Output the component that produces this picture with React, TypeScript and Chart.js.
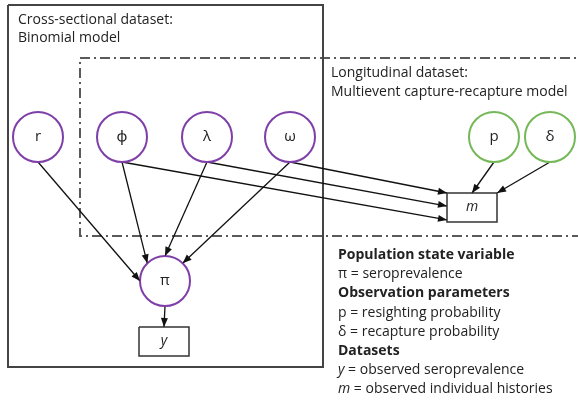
import React, { useEffect, useRef } from "react";
import { Chart, registerables } from "chart.js";
Chart.register(...registerables);

const W = 578;
const H = 402;

// Latent parameter nodes (circles)
const circleNames = ["r", "ϕ", "λ", "ω", "p", "δ", "π"];
const circleX = [38, 122, 207, 290, 494, 550, 165];
const circleY = [137, 137, 137, 137, 137, 137, 281];
const circleKind = ["demo", "demo", "demo", "demo", "obs", "obs", "demo"];

// Observed data nodes (boxes)
const boxNames = ["m", "y"];
const boxX = [472, 164];
const boxY = [207.5, 341.5];

// Edges: source node (leaves from bottom), target node, target anchor
const edgeFrom = ["r", "ϕ", "λ", "ω", "ϕ", "λ", "ω", "p", "δ", "π"];
const edgeTo = ["π", "π", "π", "π", "m", "m", "m", "m", "m", "y"];
// for circle targets: angle (deg); for box targets: [fx, fy]
const edgeAnchor: any[] = [180, 225, 270, 315, [0, 0.93], [0, 0.45], [0, 0], [0.5, 0], [1, 0], [0.5, 0]];

// Frames
const crossFrame = { x1: 8, y1: 5, x2: 323, y2: 367 };
const longFrame = { x1: 80, y1: 58, x2: 590, y2: 236 };

const crossTitle = ["Cross-sectional dataset:", "Binomial model"];
const longTitle = ["Longitudinal dataset:", "Multievent capture-recapture model"];

const legendText = [
  "Population state variable",
  "π = seroprevalence",
  "Observation parameters",
  "p = resighting probability",
  "δ = recapture probability",
  "Datasets",
  " = observed seroprevalence",
  " = observed individual histories",
];
const legendBold = [true, false, true, false, false, true, false, false];
const legendItalic = ["", "", "", "", "", "", "y", "m"];

const R = 25;
const BW = 25;
const BH = 14.5;
const FONT = "'Open Sans', 'Noto Sans', sans-serif";
const PURPLE = "#7F3FA8";
const GREEN = "#74B857";

function nodePos(name: string) {
  const ci = circleNames.indexOf(name);
  if (ci >= 0) return { kind: "c", x: circleX[ci], y: circleY[ci] };
  const bi = boxNames.indexOf(name);
  return { kind: "b", x: boxX[bi], y: boxY[bi] };
}

function edgeEnds(i: number) {
  const s = nodePos(edgeFrom[i]);
  const t = nodePos(edgeTo[i]);
  const sx = s.x;
  const sy = s.kind === "c" ? s.y + R : s.y + BH;
  const a = edgeAnchor[i];
  let tx: number, ty: number;
  if (t.kind === "c") {
    const th = (a * Math.PI) / 180;
    tx = t.x + R * Math.cos(th);
    ty = t.y + R * Math.sin(th);
  } else {
    tx = t.x - BW + 2 * BW * a[0];
    ty = t.y - BH + 2 * BH * a[1];
  }
  return { sx, sy, tx, ty };
}

function rectPts(f: { x1: number; y1: number; x2: number; y2: number }) {
  return [
    { x: f.x1, y: f.y1 },
    { x: f.x2, y: f.y1 },
    { x: f.x2, y: f.y2 },
    { x: f.x1, y: f.y2 },
    { x: f.x1, y: f.y1 },
  ];
}

const overlay = {
  id: "overlay",
  afterDatasetsDraw(chart: any) {
    const ctx = chart.ctx as CanvasRenderingContext2D;
    const xs = chart.scales.x;
    const ys = chart.scales.y;
    const px = (v: number) => xs.getPixelForValue(v);
    const py = (v: number) => ys.getPixelForValue(v);
    ctx.save();
    // arrowheads
    ctx.fillStyle = "#111";
    for (let i = 0; i < edgeFrom.length; i++) {
      const e = edgeEnds(i);
      const x1 = px(e.sx), y1 = py(e.sy), x2 = px(e.tx), y2 = py(e.ty);
      const ang = Math.atan2(y2 - y1, x2 - x1);
      const L = 9, Wd = 3.5;
      ctx.beginPath();
      ctx.moveTo(x2, y2);
      ctx.lineTo(x2 - L * Math.cos(ang) + Wd * Math.sin(ang), y2 - L * Math.sin(ang) - Wd * Math.cos(ang));
      ctx.lineTo(x2 - L * Math.cos(ang) - Wd * Math.sin(ang), y2 - L * Math.sin(ang) + Wd * Math.cos(ang));
      ctx.closePath();
      ctx.fill();
    }
    // node labels
    ctx.fillStyle = "#222";
    ctx.textAlign = "center";
    ctx.textBaseline = "middle";
    ctx.font = `15px ${FONT}`;
    for (let i = 0; i < circleNames.length; i++) {
      ctx.fillText(circleNames[i], px(circleX[i]), py(circleY[i]));
    }
    ctx.font = `italic 14px ${FONT}`;
    for (let i = 0; i < boxNames.length; i++) {
      ctx.fillText(boxNames[i], px(boxX[i]), py(boxY[i]));
    }
    // titles
    ctx.textAlign = "left";
    ctx.font = `14px ${FONT}`;
    crossTitle.forEach((t, k) => ctx.fillText(t, px(18), py(20 + k * 18.5)));
    longTitle.forEach((t, k) => ctx.fillText(t, px(331), py(73 + k * 19)));
    // legend
    legendText.forEach((t, k) => {
      const y = py(255 + k * 19.2);
      let x = px(338);
      if (legendItalic[k]) {
        ctx.font = `italic 14px ${FONT}`;
        ctx.fillText(legendItalic[k], x, y);
        x += ctx.measureText(legendItalic[k]).width;
      }
      ctx.font = `${legendBold[k] ? "bold " : ""}14px ${FONT}`;
      ctx.fillText(t, x, y);
    });
    ctx.restore();
  },
};

export default function App() {
  const ref = useRef<HTMLCanvasElement>(null);
  useEffect(() => {
    document.body.style.margin = "0";
    const datasets: any[] = [];
    datasets.push({
      data: rectPts(crossFrame),
      showLine: true,
      pointRadius: 0,
      borderColor: "#444",
      borderWidth: 2,
      order: 5,
    });
    datasets.push({
      data: [
        { x: longFrame.x2, y: longFrame.y1 },
        { x: longFrame.x1, y: longFrame.y1 },
        { x: longFrame.x1, y: longFrame.y2 },
        { x: longFrame.x2, y: longFrame.y2 },
      ],
      showLine: true,
      pointRadius: 0,
      borderColor: "#5a5a5a",
      borderWidth: 2,
      borderDash: [10, 4, 2, 4],
      order: 5,
    });
    for (let i = 0; i < edgeFrom.length; i++) {
      const e = edgeEnds(i);
      datasets.push({
        data: [
          { x: e.sx, y: e.sy },
          { x: e.tx, y: e.ty },
        ],
        showLine: true,
        pointRadius: 0,
        borderColor: "#111",
        borderWidth: 1.3,
        order: 3,
      });
    }
    for (let i = 0; i < boxNames.length; i++) {
      datasets.push({
        data: rectPts({ x1: boxX[i] - BW, y1: boxY[i] - BH, x2: boxX[i] + BW, y2: boxY[i] + BH }),
        showLine: true,
        pointRadius: 0,
        borderColor: "#333",
        borderWidth: 1.5,
        order: 2,
      });
    }
    datasets.push({
      data: circleNames.map((_, i) => ({ x: circleX[i], y: circleY[i] })),
      showLine: false,
      pointRadius: R,
      pointStyle: "circle",
      pointBorderWidth: 2,
      pointBackgroundColor: "#fff",
      pointBorderColor: circleKind.map((k) => (k === "obs" ? GREEN : PURPLE)),
      order: 1,
    });
    const chart = new Chart(ref.current!, {
      type: "scatter",
      data: { datasets },
      options: {
        animation: false,
        responsive: false,
        devicePixelRatio: 1,
        events: [],
        layout: { padding: 0, autoPadding: false },
        elements: { line: { tension: 0 } },
        plugins: { legend: { display: false }, tooltip: { enabled: false } },
        scales: {
          x: { type: "linear", min: 0, max: W, display: false },
          y: { type: "linear", min: 0, max: H, reverse: true, display: false },
        },
      },
      plugins: [overlay],
    });
    return () => chart.destroy();
  }, []);
  return (
    <canvas ref={ref} width={W} height={H} style={{ display: "block", width: W, height: H, background: "#fff" }} />
  );
}
